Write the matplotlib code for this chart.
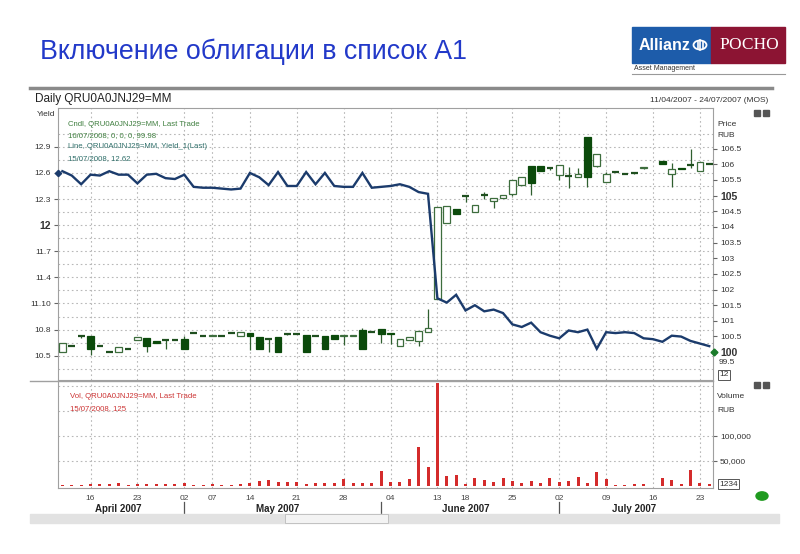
import numpy as np
import pandas as pd
import matplotlib
matplotlib.use('Agg')
import matplotlib.pyplot as plt
from matplotlib.patches import Rectangle, Circle
from matplotlib.lines import Line2D
import matplotlib.transforms as mtrans

plt.rcParams['font.family'] = ['Liberation Sans', 'DejaVu Sans']

# торговые дни MOEX (без праздников)
holidays = ['2007-04-30', '2007-05-01', '2007-05-09', '2007-06-11', '2007-06-12']
dates = pd.bdate_range('2007-04-11', '2007-07-24').drop(pd.to_datetime(holidays))

# доходность, %
yield_1 = [12.62, 12.57, 12.47, 12.58, 12.57, 12.62, 12.58, 12.58, 12.48, 12.58,
           12.59, 12.54, 12.53, 12.58, 12.44, 12.43, 12.43, 12.42, 12.41, 12.42,
           12.60, 12.55, 12.46, 12.61, 12.45, 12.45, 12.61, 12.47, 12.60, 12.45,
           12.44, 12.44, 12.60, 12.43, 12.44, 12.45, 12.47, 12.44, 12.38, 12.36,
           11.16, 11.11, 11.20, 11.02, 11.08, 11.01, 11.03, 10.99, 10.86, 10.83,
           10.88, 10.77, 10.73, 10.70, 10.79, 10.77, 10.80, 10.58, 10.77, 10.76,
           10.77, 10.76, 10.70, 10.69, 10.66, 10.73, 10.72, 10.67, 10.64, 10.61]

# цены (свечи), nan - нет сделок
nan = np.nan
p_open = [99.99, 100.21, 100.50, 100.50, 100.21, 100.00, 100.01, 100.11, 100.38, 100.45,
          100.36, 100.39, 100.40, 100.42, 100.62, 100.52, 100.50, 100.52, 100.62, 100.50,
          100.60, 100.49, 100.41, 100.49, 100.58, 100.58, 100.55, 100.53, 100.50, 100.56,
          100.50, 100.50, 100.70, 100.63, 100.74, 100.61, 100.20, 100.38, 100.37, 100.65,
          101.69, 104.12, 104.57, 104.99, 104.49, 105.01, 104.83, 104.93, 105.04, 105.34,
          105.96, 105.96, 105.87, 105.66, 105.63, 105.58, 106.88, 105.96, 105.45, 105.76,
          105.68, 105.72, 105.88, nan, 106.11, 105.68, 105.89, 105.98, 105.79, 106.00]
p_close = [100.29, 100.21, 100.50, 100.09, 100.21, 100.00, 100.18, 100.11, 100.47, 100.20,
           100.29, 100.39, 100.40, 100.09, 100.62, 100.52, 100.56, 100.52, 100.62, 100.64,
           100.50, 100.09, 100.41, 100.00, 100.58, 100.58, 100.00, 100.53, 100.09, 100.43,
           100.56, 100.56, 100.09, 100.63, 100.57, 100.57, 100.42, 100.48, 100.69, 100.76,
           104.63, 104.68, 104.41, 104.99, 104.70, 105.01, 104.92, 105.01, 105.50, 105.58,
           105.40, 105.80, 105.87, 105.98, 105.63, 105.69, 105.59, 106.33, 105.69, 105.76,
           105.68, 105.72, 105.93, nan, 106.00, 105.84, 105.85, 105.98, 106.09, 106.00]
p_high = [100.29, 100.21, 100.50, 100.50, 100.21, 100.00, 100.18, 100.11, 100.49, 100.45,
          100.36, 100.39, 100.40, 100.52, 100.62, 100.52, 100.56, 100.52, 100.62, 100.64,
          100.60, 100.49, 100.41, 100.49, 100.58, 100.58, 100.55, 100.53, 100.50, 100.56,
          100.56, 100.56, 100.78, 100.63, 100.74, 100.61, 100.42, 100.48, 100.69, 101.38,
          104.63, 104.68, 104.57, 104.99, 104.70, 105.13, 104.92, 105.01, 105.50, 105.58,
          105.96, 105.96, 105.87, 105.98, 105.93, 105.89, 106.88, 106.33, 105.77, 105.76,
          105.68, 105.76, 105.93, nan, 106.11, 106.04, 105.89, 106.49, 106.09, 106.00]
p_low = [99.99, 100.21, 100.46, 99.92, 100.21, 100.00, 100.01, 100.11, 100.38, 100.02,
         100.29, 100.09, 100.40, 100.09, 100.62, 100.52, 100.50, 100.52, 100.62, 100.50,
         100.07, 100.09, 99.99, 100.00, 100.55, 100.58, 100.00, 100.53, 100.09, 100.43,
         100.23, 100.50, 100.09, 100.63, 100.28, 100.25, 100.20, 100.38, 100.21, 100.65,
         101.69, 104.12, 104.41, 104.81, 104.49, 104.89, 104.60, 104.93, 104.98, 105.34,
         105.02, 105.80, 105.82, 105.50, 105.24, 105.58, 105.27, 105.93, 105.45, 105.76,
         105.68, 105.69, 105.84, nan, 106.00, 105.29, 105.85, 105.89, 105.79, 106.00]

# объём, руб
volume = [2000, 2000, 2000, 4000, 4000, 4000, 6500, 2000, 5000, 5000,
          5000, 5000, 4000, 6500, 2500, 2500, 5000, 3000, 2500, 5000,
          6500, 10000, 12000, 8000, 8000, 9000, 5000, 6500, 6500, 6500,
          14500, 6500, 6500, 6500, 31000, 7500, 8000, 15000, 78000, 38000,
          207000, 20000, 23000, 4000, 17000, 13000, 8000, 16000, 9500, 6000,
          11000, 6000, 17000, 8000, 11000, 19000, 6500, 28000, 15000, 2500,
          2500, 4500, 4500, 0, 16000, 13000, 4000, 33000, 6500, 4000]

tick_idx = [3, 8, 13, 16, 20, 25, 30, 35, 40, 43, 48, 53, 58, 63, 68]

W, H = 800, 554
fig = plt.figure(figsize=(8, 5.54), dpi=100)


def fx(x):
    return x / W


def fy(y):
    return 1 - y / H


def rect(x0, y0, x1, y1):
    return [x0 / W, 1 - y1 / H, (x1 - x0) / W, (y1 - y0) / H]


def box(x0, y0, x1, y1, **kw):
    fig.patches.append(Rectangle((fx(x0), fy(y1)), fx(x1) - fx(x0), fy(y0) - fy(y1),
                                 transform=fig.transFigure, **kw))


# ---- заголовок и логотип ----
fig.text(fx(40), fy(52), 'Включение облигации в список А1', fontsize=19.3,
         color='#2239c9', va='center', ha='left')
box(632, 27, 711, 63, color='#1d5caa')
box(711, 27, 785, 63, color='#8c1433')
fig.text(fx(639), fy(45), 'Allianz', fontsize=11.5, fontweight='bold', color='white',
         va='center')
fig.patches.append(Circle((fx(700), fy(45)), 6.5 / W, transform=fig.transFigure,
                          facecolor='none', edgecolor='white', lw=1.3))
for dx, h in [(-2.5, 3), (0, 5), (2.5, 3)]:
    fig.add_artist(Line2D([fx(700 + dx)] * 2, [fy(45 + h), fy(45 - h)], color='white', lw=1.2))
fig.text(fx(749), fy(45), 'РОСНО', fontsize=12.5, family='Liberation Serif', color='white',
         va='center', ha='center')
fig.text(fx(634), fy(68), 'Asset Management', fontsize=5, color='#333333', va='center')
fig.add_artist(Line2D([fx(632), fx(785)], [fy(74), fy(74)], color='#999999', lw=0.8))

# ---- рамка графика ----
fig.add_artist(Line2D([fx(30), fx(772)], [fy(88), fy(88)], color='#8a8a8a', lw=2.5))
fig.text(fx(35), fy(99), 'Daily QRU0A0JNJ29=MM', fontsize=8.5, color='#222222', va='center')
fig.text(fx(768), fy(100), '11/04/2007 - 24/07/2007 (MOS)', fontsize=6, color='#333333',
         va='center', ha='right')
for yy in (113, 385):
    box(754, yy - 3, 760, yy + 3, color='#555555')
    box(763, yy - 3, 769, yy + 3, color='#555555')

grid_kw = dict(color='#b8b8b8', ls=(0, (1.5, 2.5)), lw=0.8)
spine_c = '#a0a0a0'

# ---- верхняя панель ----
ag = fig.add_axes(rect(58, 108, 713, 380))
ag.set_xlim(-0.47, 69.4)
ag.set_ylim(10.221, 13.346)
yt = [10.5, 10.8, 11.1, 11.4, 11.7, 12.0, 12.3, 12.6, 12.9]
ag.set_yticks(yt)
ag.set_yticklabels(['10.5', '10.8', '11.10', '11.4', '11.7', '12', '12.3', '12.6', '12.9'])
ag.set_yticks(np.arange(10.35, 13.3, 0.3), minor=True)
ag.set_xticks(tick_idx)
ag.tick_params(axis='x', length=0, labelbottom=False)
ag.tick_params(axis='y', which='major', length=3, color='#666666', labelsize=6,
               labelcolor='#333333', pad=2)
ag.tick_params(axis='y', which='minor', length=0)
for lab in ag.get_yticklabels():
    if lab.get_text() == '12':
        lab.set_fontweight('bold')
        lab.set_fontsize(7.5)
ag.grid(True, which='both', **grid_kw)
for s in ag.spines.values():
    s.set_color(spine_c)

ax = fig.add_axes(rect(58, 108, 713, 380), sharex=ag)
ax.set_zorder(ag.get_zorder() + 1)
ax.patch.set_visible(False)
ax.set_ylim(99.11, 107.80)
pt = np.arange(100, 106.51, 0.5)
ax.set_yticks(pt)
ax.set_yticklabels([('%g' % v) for v in pt])
ax.yaxis.tick_right()
ax.tick_params(axis='y', length=3, color='#666666', labelsize=6, labelcolor='#333333', pad=2)
ax.tick_params(axis='x', length=0, labelbottom=False)
for lab in ax.get_yticklabels():
    if lab.get_text() in ('105', '100'):
        lab.set_fontweight('bold')
        lab.set_fontsize(7.5)
for s in ax.spines.values():
    s.set_visible(False)

x = np.arange(len(dates))
o = np.array(p_open)
c = np.array(p_close)
hi = np.array(p_high)
lo = np.array(p_low)
ok = ~np.isnan(o)
up = ok & (c > o + 0.005)
dn = ok & (c < o - 0.005)
flat = ok & ~up & ~dn
w = 0.72
ax.vlines(x[ok], lo[ok], hi[ok], color='#2f5f2f', lw=0.9, zorder=2)
ax.bar(x[up], (c - o)[up], bottom=o[up], width=w, facecolor='white', edgecolor='#3d6d3d',
       lw=0.9, zorder=3)
ax.bar(x[dn], (o - c)[dn], bottom=c[dn], width=w, facecolor='#0b4a0b', edgecolor='#0b4a0b',
       lw=0.9, zorder=3)
ax.hlines(c[flat], x[flat] - w / 2, x[flat] + w / 2, color='#1f4f1f', lw=1.6, zorder=3)
ax.plot(69.55, 100, marker='D', ms=3.5, color='#1a7a2a', clip_on=False, zorder=5)

ay = fig.add_axes(rect(58, 108, 713, 380), sharex=ag)
ay.set_zorder(ax.get_zorder() + 1)
ay.patch.set_visible(False)
ay.set_ylim(10.221, 13.346)
ay.axis('off')
ay.plot(x, yield_1, color='#1b3b6c', lw=1.7, solid_joinstyle='miter')
ay.plot(-0.47, 12.6, marker='D', ms=3.2, color='#1b3b6c', clip_on=False)

fig.text(fx(37), fy(114), 'Yield', fontsize=6, color='#333333', va='center')
fig.text(fx(717), fy(124), 'Price', fontsize=6, color='#333333', va='center')
fig.text(fx(717), fy(136), 'RUB', fontsize=6, color='#333333', va='center')
leg = [('Cndl, QRU0A0JNJ29=MM, Last Trade', '#3f7f3f'),
       ('16/07/2008, 0, 0, 0, 99.98', '#3f7f3f'),
       ('Line, QRU0A0JNJ29=MM, Yield_1(Last)', '#2f6f6a'),
       ('15/07/2008, 12.62', '#2f6f6a')]
for i, (t, col) in enumerate(leg):
    fig.text(fx(68), fy(124 + 11.5 * i), t, fontsize=5.6, color=col, va='center')
fig.text(fx(719), fy(362), '99.5', fontsize=6, color='#333333', va='center')
fig.text(fx(719), fy(375), '12', fontsize=6, color='#333333', va='center',
         bbox=dict(boxstyle='square,pad=0.15', fc='white', ec='#555555', lw=0.7))

# разделитель панелей
fig.add_artist(Line2D([fx(30), fx(713)], [fy(380.5), fy(380.5)], color=spine_c, lw=1))

# ---- объём ----
av = fig.add_axes(rect(58, 381, 713, 488), sharex=ag)
av.set_ylim(-4000, 210000)
av.bar(x, volume, width=0.32, color='#d42b2b', zorder=3)
av.yaxis.tick_right()
av.set_yticks([50000, 100000])
av.set_yticklabels(['50,000', '100,000'])
av.set_yticks([150000, 200000], minor=True)
av.tick_params(axis='y', which='major', length=3, color='#666666', labelsize=6,
               labelcolor='#333333', pad=2)
av.tick_params(axis='y', which='minor', length=0)
av.set_xticks(tick_idx)
av.set_xticklabels([dates[i].strftime('%d') for i in tick_idx])
av.tick_params(axis='x', length=0, labelsize=6, labelcolor='#444444', pad=5)
av.grid(True, which='both', **grid_kw)
for s in av.spines.values():
    s.set_color(spine_c)
av.spines['top'].set_visible(False)

fig.text(fx(717), fy(397), 'Volume', fontsize=6, color='#333333', va='center')
fig.text(fx(717), fy(410), 'RUB', fontsize=6, color='#333333', va='center')
fig.text(fx(719), fy(484), '1234', fontsize=6, color='#333333', va='center',
         bbox=dict(boxstyle='square,pad=0.15', fc='white', ec='#555555', lw=0.7))
fig.text(fx(70), fy(397), 'Vol, QRU0A0JNJ29=MM, Last Trade', fontsize=5.6, color='#cc3333',
         va='center')
fig.text(fx(70), fy(409), '15/07/2008, 125', fontsize=5.6, color='#cc3333', va='center')

# месяцы
tr = mtrans.blended_transform_factory(av.transData, av.transAxes)
months = dates.to_period('M')
for m in months.unique():
    idx = np.where(months == m)[0]
    av.text(idx.mean(), -0.196, dates[idx[0]].strftime('%B %Y'), transform=tr,
            ha='center', va='center', fontsize=7, fontweight='bold', color='#222222')
    if idx[0] > 0:
        av.add_line(Line2D([idx[0], idx[0]], [-0.13, -0.24], transform=tr, color='#555555',
                           lw=0.9, clip_on=False))

# статус и полоса прокрутки
fig.patches.append(Circle((fx(762), fy(496)), 6 / W, transform=fig.transFigure, color='#1f9a1f'))
box(30, 514, 779, 523, color='#e2e2e2')
box(285, 514, 388, 523, facecolor='#f3f3f3', edgecolor='#bbbbbb', lw=0.6)

fig.savefig('out.png', dpi=100)
